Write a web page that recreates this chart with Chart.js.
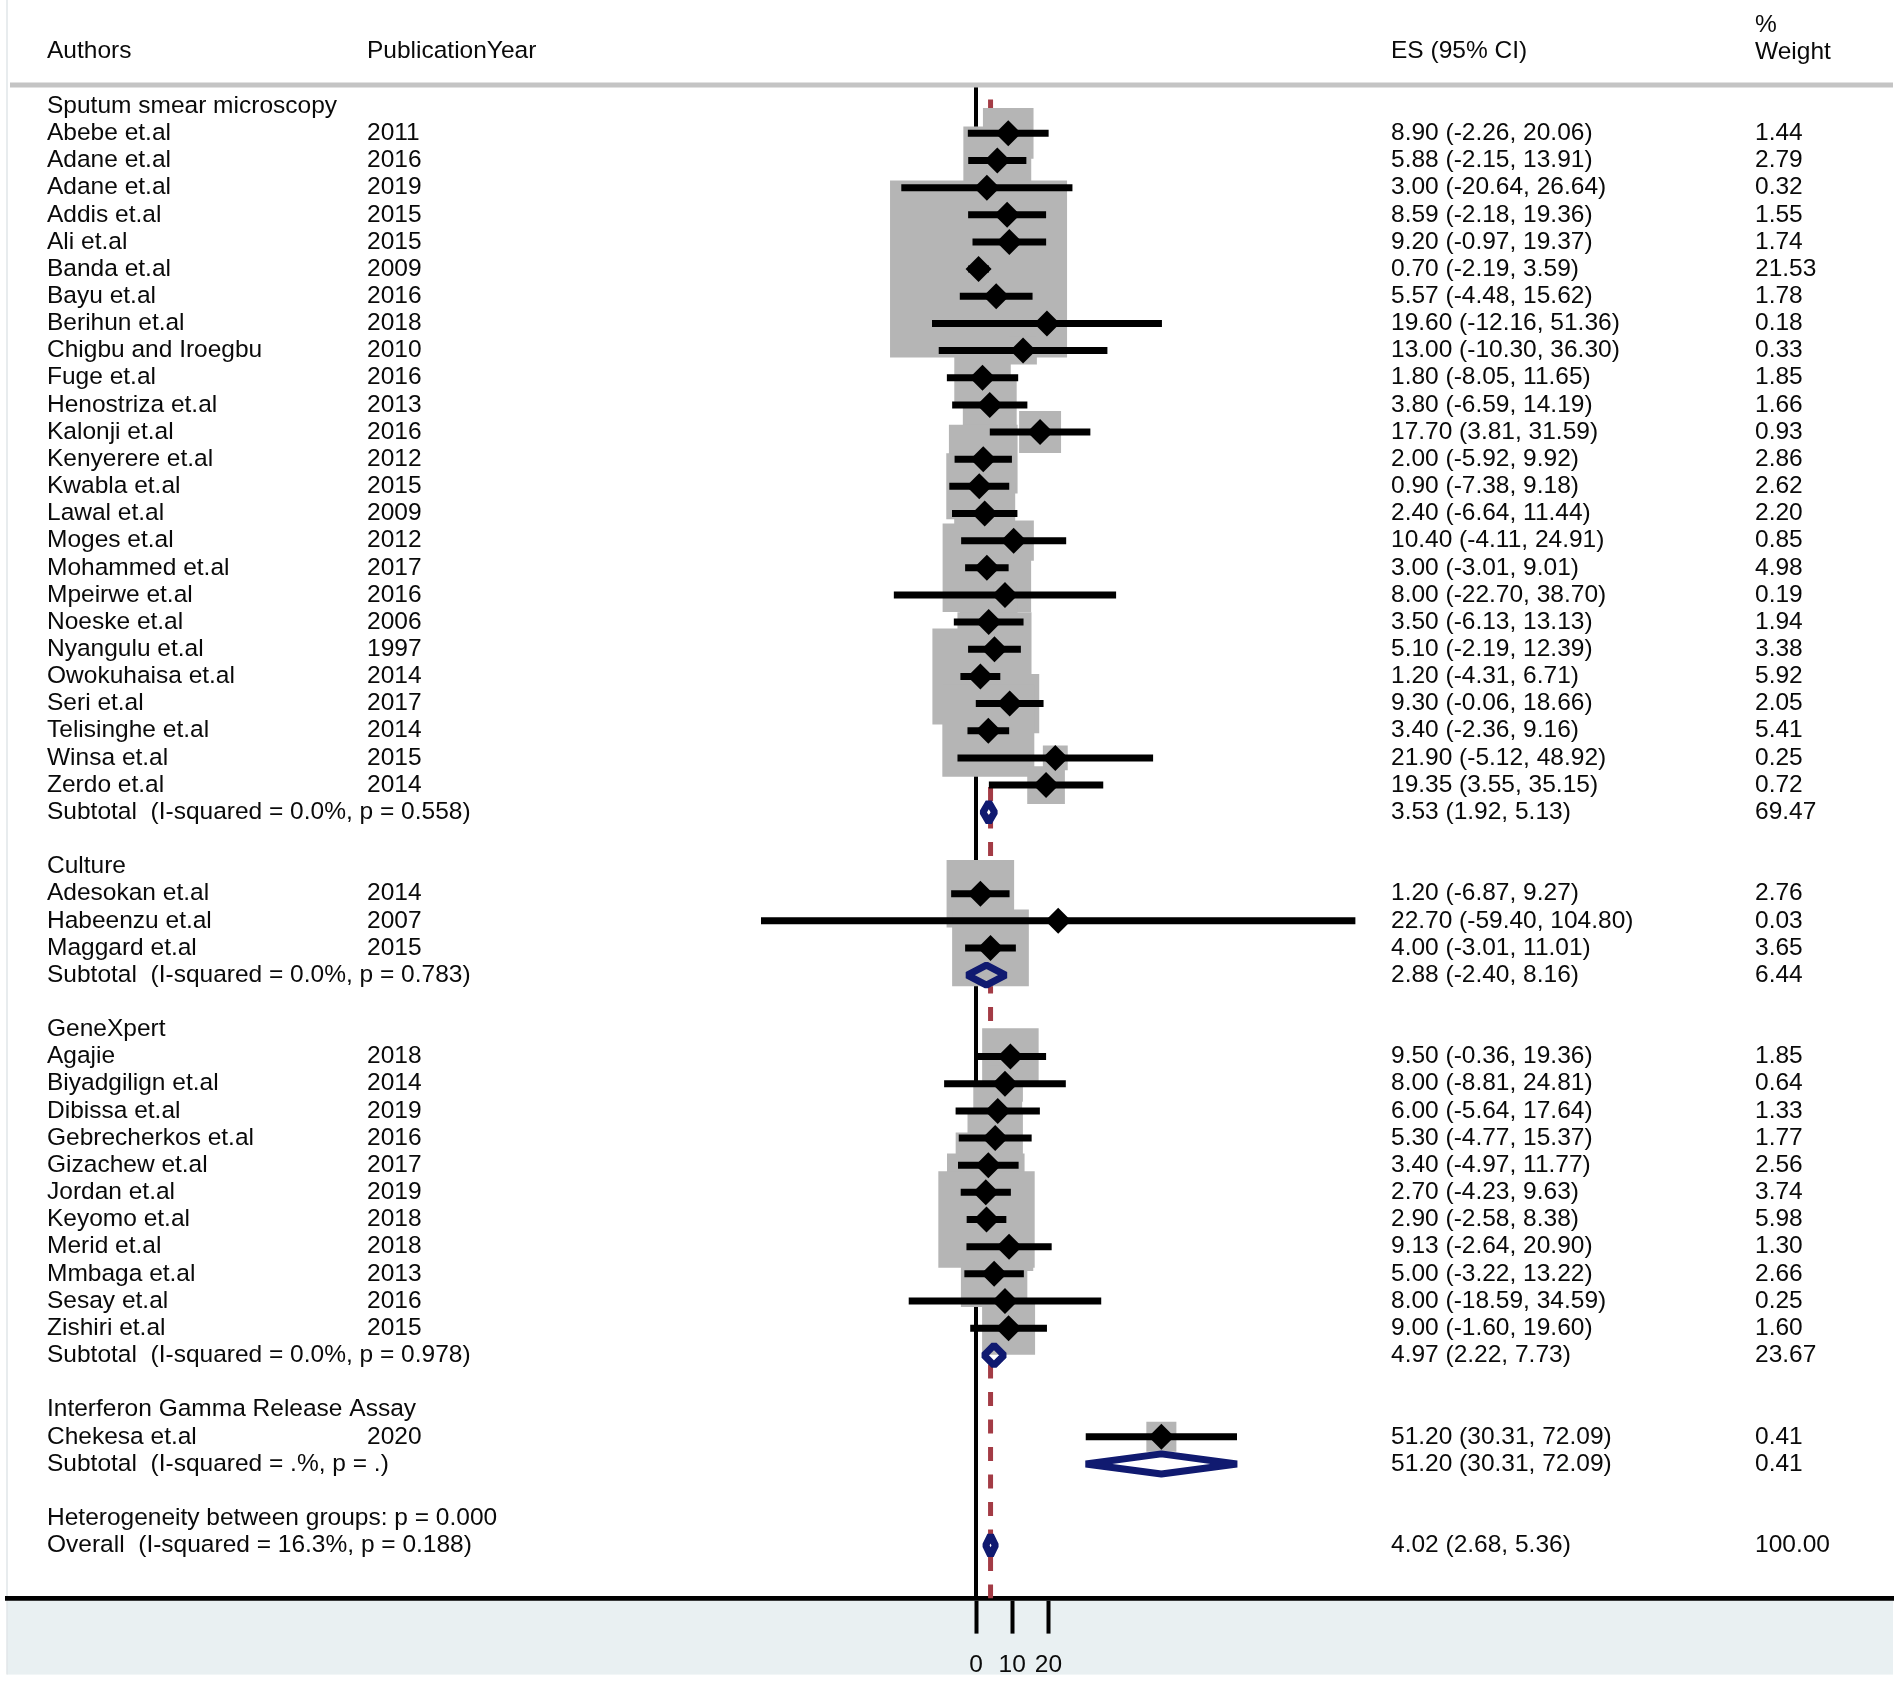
<!DOCTYPE html>
<html>
<head>
<meta charset="utf-8">
<script src="https://cdn.jsdelivr.net/npm/chart.js@4.4.1/dist/chart.umd.min.js"></script>
<style>
  html, body { margin: 0; padding: 0; background: #fff; }
  #wrap { width: 1902px; height: 1681px; }
</style>
</head>
<body>
<div id="wrap"><canvas id="forest" width="1902" height="1681"></canvas></div>
<script>
// study level data
const authors = [
  'Abebe et.al', 'Adane et.al', 'Adane et.al', 'Addis et.al', 'Ali et.al', 'Banda et.al', 'Bayu et.al',
  'Berihun et.al', 'Chigbu and Iroegbu', 'Fuge et.al', 'Henostriza et.al', 'Kalonji et.al', 'Kenyerere et.al',
  'Kwabla et.al', 'Lawal et.al', 'Moges et.al', 'Mohammed et.al', 'Mpeirwe et.al', 'Noeske et.al',
  'Nyangulu et.al', 'Owokuhaisa et.al', 'Seri et.al', 'Telisinghe et.al', 'Winsa et.al', 'Zerdo et.al',
  'Adesokan et.al', 'Habeenzu et.al', 'Maggard et.al',
  'Agajie', 'Biyadgilign et.al', 'Dibissa et.al', 'Gebrecherkos et.al', 'Gizachew et.al', 'Jordan et.al',
  'Keyomo et.al', 'Merid et.al', 'Mmbaga et.al', 'Sesay et.al', 'Zishiri et.al',
  'Chekesa et.al'
];
const years = [
  2011, 2016, 2019, 2015, 2015, 2009, 2016, 2018, 2010, 2016, 2013, 2016, 2012, 2015, 2009, 2012, 2017,
  2016, 2006, 1997, 2014, 2017, 2014, 2015, 2014,
  2014, 2007, 2015,
  2018, 2014, 2019, 2016, 2017, 2019, 2018, 2018, 2013, 2016, 2015,
  2020
];
const es = [
  8.90, 5.88, 3.00, 8.59, 9.20, 0.70, 5.57, 19.60, 13.00, 1.80, 3.80, 17.70, 2.00, 0.90, 2.40, 10.40, 3.00,
  8.00, 3.50, 5.10, 1.20, 9.30, 3.40, 21.90, 19.35,
  1.20, 22.70, 4.00,
  9.50, 8.00, 6.00, 5.30, 3.40, 2.70, 2.90, 9.13, 5.00, 8.00, 9.00,
  51.20
];
const lower = [
  -2.26, -2.15, -20.64, -2.18, -0.97, -2.19, -4.48, -12.16, -10.30, -8.05, -6.59, 3.81, -5.92, -7.38, -6.64,
  -4.11, -3.01, -22.70, -6.13, -2.19, -4.31, -0.06, -2.36, -5.12, 3.55,
  -6.87, -59.40, -3.01,
  -0.36, -8.81, -5.64, -4.77, -4.97, -4.23, -2.58, -2.64, -3.22, -18.59, -1.60,
  30.31
];
const upper = [
  20.06, 13.91, 26.64, 19.36, 19.37, 3.59, 15.62, 51.36, 36.30, 11.65, 14.19, 31.59, 9.92, 9.18, 11.44,
  24.91, 9.01, 38.70, 13.13, 12.39, 6.71, 18.66, 9.16, 48.92, 35.15,
  9.27, 104.80, 11.01,
  19.36, 24.81, 17.64, 15.37, 11.77, 9.63, 8.38, 20.90, 13.22, 34.59, 19.60,
  72.09
];
const weights = [
  1.44, 2.79, 0.32, 1.55, 1.74, 21.53, 1.78, 0.18, 0.33, 1.85, 1.66, 0.93, 2.86, 2.62, 2.20, 0.85, 4.98,
  0.19, 1.94, 3.38, 5.92, 2.05, 5.41, 0.25, 0.72,
  2.76, 0.03, 3.65,
  1.85, 0.64, 1.33, 1.77, 2.56, 3.74, 5.98, 1.30, 2.66, 0.25, 1.60,
  0.41
];
const groupOf = [
  0, 0, 0, 0, 0, 0, 0, 0, 0, 0, 0, 0, 0, 0, 0, 0, 0, 0, 0, 0, 0, 0, 0, 0, 0,
  1, 1, 1,
  2, 2, 2, 2, 2, 2, 2, 2, 2, 2, 2,
  3
];

// subgroup summaries
const groupNames = ['Sputum smear microscopy', 'Culture', 'GeneXpert', 'Interferon Gamma Release Assay'];
const subES = [3.53, 2.88, 4.97, 51.20];
const subLower = [1.92, -2.40, 2.22, 30.31];
const subUpper = [5.13, 8.16, 7.73, 72.09];
const subWeight = [69.47, 6.44, 23.67, 0.41];
const subI2 = ['0.0%', '0.0%', '0.0%', '.%'];
const subP = ['0.558', '0.783', '0.978', '.'];

// overall
const overallES = 4.02;
const overallLower = 2.68;
const overallUpper = 5.36;
const overallWeight = 100.00;
const overallI2 = '16.3%';
const overallP = '0.188';
const hetP = '0.000';

const xTicks = [0, 10, 20];

// ---- row layout
let r = 0;
const headRow = [], studyRow = [], subRow = [];
groupNames.forEach((g, gi) => {
  headRow[gi] = r++;
  authors.forEach((a, i) => { if (groupOf[i] === gi) studyRow[i] = r++; });
  subRow[gi] = r++;
  r++;
});
const hetRow = r++;
const overallRow = r++;

const Y_MIN = -0.78, Y_MAX = 54.96;
const FONT = '24.5px "Liberation Sans", Arial, sans-serif';
const NAVY = '#101a70';

// datasets built from the arrays
const boxData = es.map((v, i) => ({ x: v, y: studyRow[i] }));
const boxRadius = weights.map(w => (6.5 + 36.75 * Math.sqrt(w)) * Math.SQRT1_2);

const ciData = [];
es.forEach((v, i) => {
  ciData.push({ x: lower[i], y: studyRow[i] }, { x: upper[i], y: studyRow[i] }, { x: null, y: null });
});

const H = 0.37;
function diamond(lo, mid, hi, row) {
  return [
    { x: lo, y: row }, { x: mid, y: row - H }, { x: hi, y: row }, { x: mid, y: row + H },
    { x: lo, y: row }, { x: mid, y: row - H }, { x: null, y: null }
  ];
}
let sumData = [];
subES.forEach((v, gi) => { sumData = sumData.concat(diamond(subLower[gi], v, subUpper[gi], subRow[gi])); });
sumData = sumData.concat(diamond(overallLower, overallES, overallUpper, overallRow));

const fmt = v => v.toFixed(2);

const textPlugin = {
  id: 'forestText',
  beforeDraw(chart) {
    const ctx = chart.ctx, a = chart.chartArea;
    ctx.save();
    ctx.fillStyle = '#e9f0f2';
    ctx.fillRect(a.left, a.bottom, a.right - a.left, 76);
    ctx.strokeStyle = '#e1e6e8';
    ctx.lineWidth = 1.5;
    ctx.beginPath();
    ctx.moveTo(a.left, 0);
    ctx.lineTo(a.left, a.bottom + 76);
    ctx.stroke();
    ctx.restore();
  },
  afterDraw(chart) {
    const ctx = chart.ctx, a = chart.chartArea, ys = chart.scales.y;
    const colA = 47, colY = 367, colES = 1391, colW = 1755;
    ctx.save();
    // header rule
    ctx.strokeStyle = '#c4c4c4';
    ctx.lineWidth = 5;
    ctx.beginPath();
    ctx.moveTo(10, a.top);
    ctx.lineTo(a.right, a.top);
    ctx.stroke();

    ctx.fillStyle = '#0a0a0a';
    ctx.font = FONT;
    ctx.textBaseline = 'middle';
    ctx.textAlign = 'left';
    ctx.fillText('Authors', colA, 51);
    ctx.fillText('PublicationYear', colY, 51);
    ctx.fillText('ES (95% CI)', colES, 51);
    ctx.fillText('%', colW, 25);
    ctx.fillText('Weight', colW, 52);

    const py = row => ys.getPixelForValue(row);
    groupNames.forEach((g, gi) => {
      ctx.fillText(g, colA, py(headRow[gi]));
      const y = py(subRow[gi]);
      ctx.fillText('Subtotal  (I-squared = ' + subI2[gi] + ', p = ' + subP[gi] + ')', colA, y);
      ctx.fillText(fmt(subES[gi]) + ' (' + fmt(subLower[gi]) + ', ' + fmt(subUpper[gi]) + ')', colES, y);
      ctx.fillText(fmt(subWeight[gi]), colW, y);
    });
    authors.forEach((name, i) => {
      const y = py(studyRow[i]);
      ctx.fillText(name, colA, y);
      ctx.fillText(String(years[i]), colY, y);
      ctx.fillText(fmt(es[i]) + ' (' + fmt(lower[i]) + ', ' + fmt(upper[i]) + ')', colES, y);
      ctx.fillText(fmt(weights[i]), colW, y);
    });
    ctx.fillText('Heterogeneity between groups: p = ' + hetP, colA, py(hetRow));
    const yo = py(overallRow);
    ctx.fillText('Overall  (I-squared = ' + overallI2 + ', p = ' + overallP + ')', colA, yo);
    ctx.fillText(fmt(overallES) + ' (' + fmt(overallLower) + ', ' + fmt(overallUpper) + ')', colES, yo);
    ctx.fillText(fmt(overallWeight), colW, yo);
    ctx.restore();
  }
};

new Chart(document.getElementById('forest'), {
  type: 'scatter',
  data: {
    datasets: [
      {
        label: 'null line',
        data: [{ x: 0, y: Y_MIN }, { x: 0, y: Y_MAX }],
        showLine: true, borderColor: '#000', borderWidth: 4, pointRadius: 0, order: 10
      },
      {
        label: 'overall line',
        data: [{ x: overallES, y: Y_MAX }, { x: overallES, y: -0.35 }],
        showLine: true, borderColor: '#a33b45', borderWidth: 5, borderDash: [14, 13.5],
        pointRadius: 0, order: 9
      },
      {
        label: 'weights',
        data: boxData,
        pointStyle: 'rect', pointRadius: boxRadius, backgroundColor: '#b5b5b5',
        borderWidth: 0, order: 8
      },
      {
        label: 'CI',
        data: ciData,
        showLine: true, spanGaps: false, borderColor: '#000', borderWidth: 7,
        borderCapStyle: 'butt', pointRadius: 0, order: 7
      },
      {
        label: 'ES',
        data: es.map((v, i) => ({ x: v, y: studyRow[i] })),
        pointStyle: 'rectRot', pointRadius: 13, backgroundColor: '#000', borderWidth: 0, order: 6
      },
      {
        label: 'pooled',
        data: sumData,
        showLine: true, spanGaps: false, borderColor: NAVY, borderWidth: 7,
        borderJoinStyle: 'bevel', pointRadius: 0, fill: false, order: 5
      }
    ]
  },
  options: {
    responsive: false,
    devicePixelRatio: 1,
    animation: false,
    events: [],
    layout: { autoPadding: false, padding: { left: 7, right: 9, top: 85, bottom: -16 } },
    plugins: { legend: { display: false }, tooltip: { enabled: false } },
    scales: {
      x: {
        type: 'linear',
        min: -267.68,
        max: 253.31,
        afterBuildTicks: scale => { scale.ticks = xTicks.map(v => ({ value: v })); },
        ticks: { autoSkip: false, maxRotation: 0, padding: 17, color: '#0a0a0a',
                 font: { family: '"Liberation Sans", Arial, sans-serif', size: 24.5 } },
        grid: { drawOnChartArea: false, drawTicks: true, tickLength: 35, tickColor: '#000', tickWidth: 4 },
        border: { display: true, color: '#000', width: 4.7 }
      },
      y: {
        type: 'linear',
        display: false,
        reverse: true,
        min: Y_MIN,
        max: Y_MAX
      }
    }
  },
  plugins: [textPlugin]
});
</script>
</body>
</html>
